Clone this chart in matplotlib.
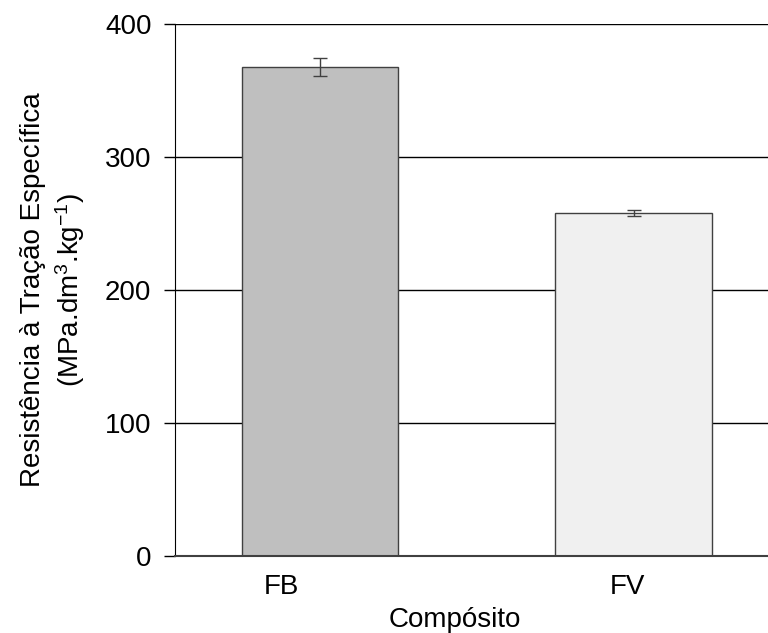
import matplotlib.pyplot as plt
import matplotlib.transforms as mtransforms
import numpy as np

plt.rcParams['font.family'] = ['Liberation Sans', 'DejaVu Sans']
plt.rcParams['mathtext.fontset'] = 'custom'
plt.rcParams['mathtext.rm'] = 'Liberation Sans'
plt.rcParams['mathtext.default'] = 'regular'

# dados
categorias = ['FB', 'FV']
valores = [368, 258]
erros = [6.8, 2.2]
cores = ['#BFBFBF', '#F0F0F0']

fig = plt.figure(figsize=(7.68, 6.33), dpi=100)
ax = fig.add_axes([0.228, 0.122, 0.772, 0.84])

x = np.arange(len(categorias))
ax.set_axisbelow(True)
ax.yaxis.grid(True, color='black', linewidth=1)
ax.bar(x, valores, width=0.5, color=cores, edgecolor='#404040', linewidth=1,
       yerr=erros, capsize=5,
       error_kw=dict(ecolor='#404040', elinewidth=1, capthick=1))

ax.set_xlim(-0.4625, 1.429)
ax.set_ylim(0, 400)
ax.set_yticks([0, 100, 200, 300, 400])
ax.set_xticks(x)
ax.set_xticklabels(categorias)
ax.tick_params(axis='x', length=0, labelsize=20, pad=13)
ax.tick_params(axis='y', length=8, width=1, labelsize=20, pad=9)

# rótulos do eixo x ficam um pouco à esquerda das barras no original
desloc = [-39, -6]
for lab, dx in zip(ax.get_xticklabels(), desloc):
    lab.set_transform(lab.get_transform() +
                      mtransforms.ScaledTranslation(dx / 100, 0, fig.dpi_scale_trans))

for s in ['top', 'right']:
    ax.spines[s].set_visible(False)
ax.spines['left'].set_color('black')
ax.spines['bottom'].set_color('#404040')
ax.spines['bottom'].set_linewidth(1.5)

ax.set_xlabel('Compósito', fontsize=20)
ax.xaxis.set_label_coords(0.471, -0.097)
ax.set_ylabel('Resistência à Tração Específica\n(MPa.dm$^{3}$.kg$^{-1}$)',
              fontsize=20, linespacing=1.3)
ax.yaxis.set_label_coords(-0.148, 0.5)

plt.savefig('out.png', dpi=100)
